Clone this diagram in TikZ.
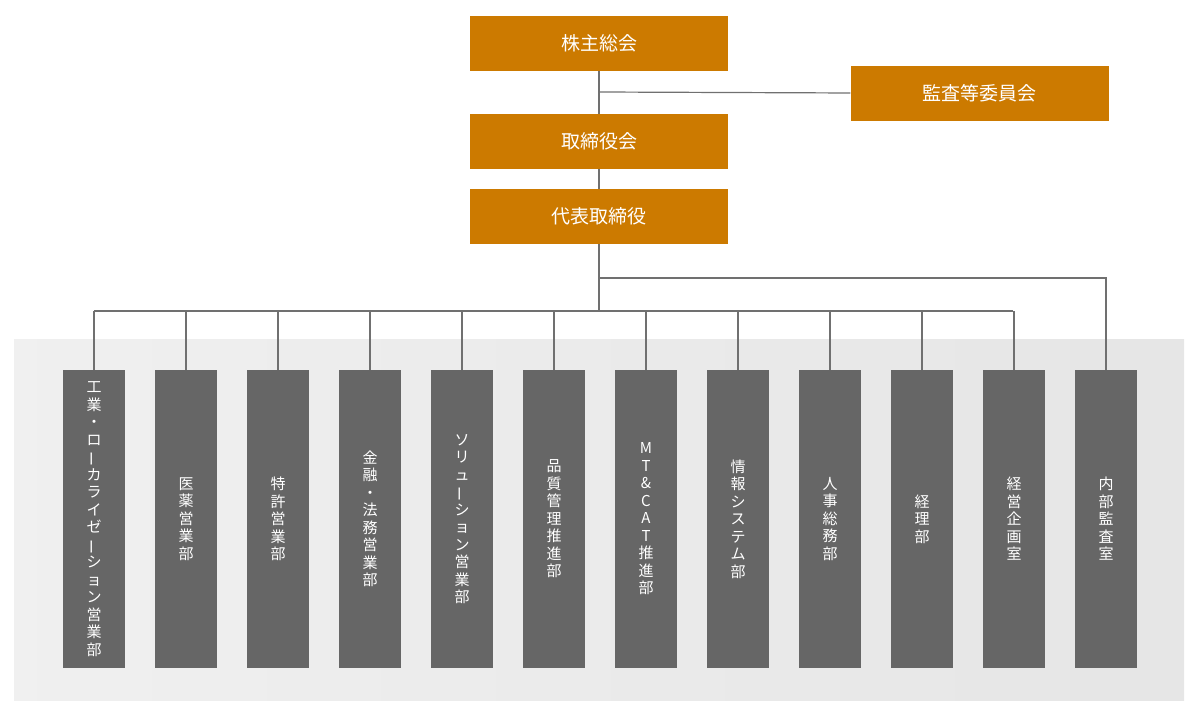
\documentclass[tikz,border=0pt]{standalone}
\usepackage{fontspec}
\usepackage{graphicx}
\setmainfont{Noto Sans CJK JP}
\definecolor{boxorange}{HTML}{CC7A00}
\definecolor{boxgray}{HTML}{666666}
\definecolor{linegray}{HTML}{707070}
\newcommand{\vbar}{\rotatebox[origin=c]{90}{ー}}
\tikzset{
  top/.style={fill=boxorange,text=white,minimum width=258pt,minimum height=55pt,inner sep=0pt,font=\fontsize{19pt}{21pt}\selectfont},
  dept/.style={fill=boxgray,text=white,minimum width=62pt,minimum height=298pt,inner sep=0pt,align=center,font=\fontsize{15pt}{17.5pt}\selectfont},
  conn/.style={draw=linegray,line width=1.2pt}
}
\begin{document}
\begin{tikzpicture}[x=1pt,y=-1pt]
\useasboundingbox (0,0) rectangle (1200,708);
\shade[left color=black!6,right color=black!10] (14,340) rectangle (1184,700);

\node[top] (share) at (599,43.5) {株主総会};
\node[top] (audit) at (979.5,93.5) {監査等委員会};
\node[top] (board) at (599,141.5) {取締役会};
\node[top] (ceo) at (599,216.5) {代表取締役};

\coordinate (j1) at (599,92);
\coordinate (j2) at (599,278);
\coordinate (bl) at (94,311);
\coordinate (br) at (1013,311);
\draw[conn] (share) -- (board);
\draw[conn] (j1) -- (audit);
\draw[conn] (board) -- (ceo);
\draw[conn] (ceo) -- (599,311);
\draw[conn] (bl) -- (br);

\foreach \i/\t in {0/{工\\業\\・\\ロ\\\vbar\\カ\\ラ\\イ\\ゼ\\\vbar\\シ\\ョ\\ン\\営\\業\\部},
  1/{医\\薬\\営\\業\\部},
  2/{特\\許\\営\\業\\部},
  3/{金\\融\\・\\法\\務\\営\\業\\部},
  4/{ソ\\リ\\ュ\\\vbar\\シ\\ョ\\ン\\営\\業\\部},
  5/{品\\質\\管\\理\\推\\進\\部},
  6/{M\\T\\\&\\C\\A\\T\\推\\進\\部},
  7/{情\\報\\シ\\ス\\テ\\ム\\部},
  8/{人\\事\\総\\務\\部},
  9/{経\\理\\部},
  10/{経\\営\\企\\画\\室},
  11/{内\\部\\監\\査\\室}}{
  \node[dept] (d\i) at (94+92*\i,519) {\t};
}
\foreach \i in {0,...,10}{
  \draw[conn] (d\i.north) -- (d\i.north |- bl);
}
\draw[conn] (j2) -| (d11.north);
\end{tikzpicture}
\end{document}
